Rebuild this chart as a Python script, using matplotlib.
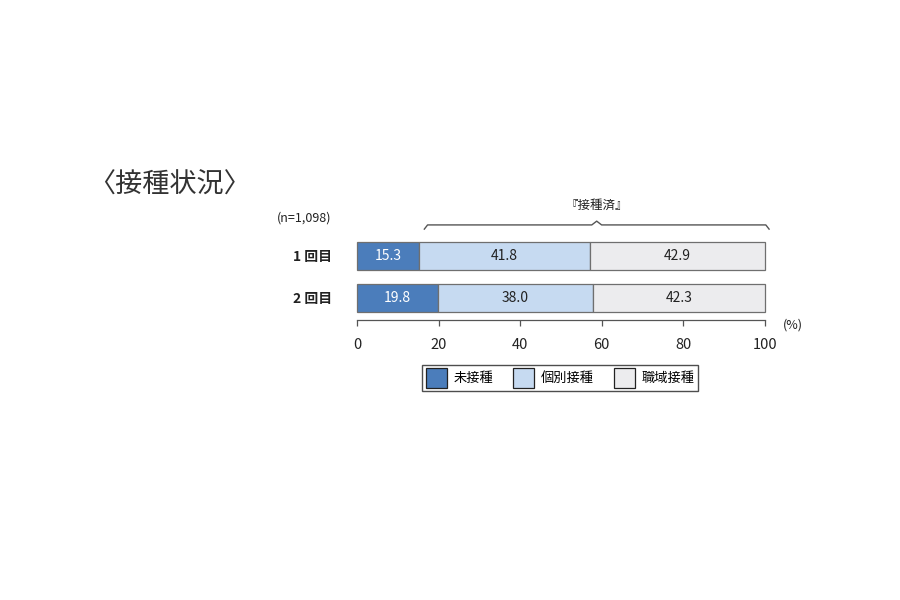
import numpy as np
import matplotlib.pyplot as plt
from matplotlib.patches import Patch

plt.rcParams["font.family"] = ["Noto Sans CJK JP", "DejaVu Sans"]

rounds = ["1 回目", "2 回目"]
categories = ["未接種", "個別接種", "職域接種"]
values = {
    "未接種": [15.3, 19.8],
    "個別接種": [41.8, 38.0],
    "職域接種": [42.9, 42.3],
}
colors = ["#4b7dbb", "#c6daf1", "#ececee"]
text_colors = ["white", "#222222", "#222222"]
xticks = [0, 20, 40, 60, 80, 100]

fig = plt.figure(figsize=(9, 6), dpi=100)
ax = fig.add_axes([357 / 900, 1 - 320 / 600, 408 / 900, 85 / 600])

y = np.arange(len(rounds))
left = np.zeros(len(rounds))
for cat, col, tcol in zip(categories, colors, text_colors):
    vals = np.array(values[cat])
    ax.barh(y, vals, left=left, height=0.667, color=col,
            edgecolor="#6f6f6f", linewidth=0.9, clip_on=False)
    for yi, (l, v) in enumerate(zip(left, vals)):
        ax.text(l + v / 2, yi, f"{v:.1f}", ha="center", va="center",
                fontsize=10, color=tcol)
    left += vals

ax.set_xlim(0, 100)
ax.set_ylim(1.524, -0.5)
ax.set_yticks(y)
ax.set_yticklabels(rounds, fontsize=10, fontweight="bold", color="#222222")
ax.tick_params(axis="y", length=0, pad=18)
ax.set_xticks(xticks)
ax.set_xticklabels([str(t) for t in xticks], fontsize=10.5, color="#222222")
ax.tick_params(axis="x", length=4, width=0.9, color="#555555", pad=9)
for s in ["top", "right", "left"]:
    ax.spines[s].set_visible(False)
ax.spines["bottom"].set_color("#555555")
ax.spines["bottom"].set_linewidth(0.9)

# brace over the vaccinated part
b0 = values["未接種"][0] + 1.2
b1 = 101.0
mid = (b0 + b1) / 2
by, bt, bb = -0.74, -0.83, -0.64
bx = [b0, b0 + 0.8, mid - 1.2, mid, mid + 1.2, b1 - 0.8, b1]
byy = [bb, by, by, bt, by, by, bb]
ax.plot(bx, byy, color="#555555", lw=1.0, clip_on=False)
ax.text(mid, -1.21, "『接種済』", ha="center", va="center", fontsize=9,
        color="#222222")

fig.text(277 / 900, 1 - 218 / 600, "(n=1,098)", ha="left", va="center",
         fontsize=9, color="#222222")
fig.text(783 / 900, 1 - 325 / 600, "(%)", ha="left", va="center",
         fontsize=9, color="#222222")
fig.text(88 / 900, 1 - 185 / 600, "〈接種状況〉", ha="left", va="center",
         fontsize=19.5, color="#333333")

handles = [Patch(facecolor=c, edgecolor="#222222", linewidth=0.9) for c in colors]
leg = fig.legend(handles, categories, ncol=3, loc="center",
                 bbox_to_anchor=(560 / 900, 1 - 378 / 600),
                 fontsize=9.5, frameon=True, fancybox=False,
                 handlelength=1.6, handleheight=1.9, handletextpad=0.5,
                 columnspacing=1.5, borderpad=0.25)
leg.get_frame().set_edgecolor("#222222")
leg.get_frame().set_linewidth(1.0)

fig.savefig("out.png", dpi=100, facecolor="white")
